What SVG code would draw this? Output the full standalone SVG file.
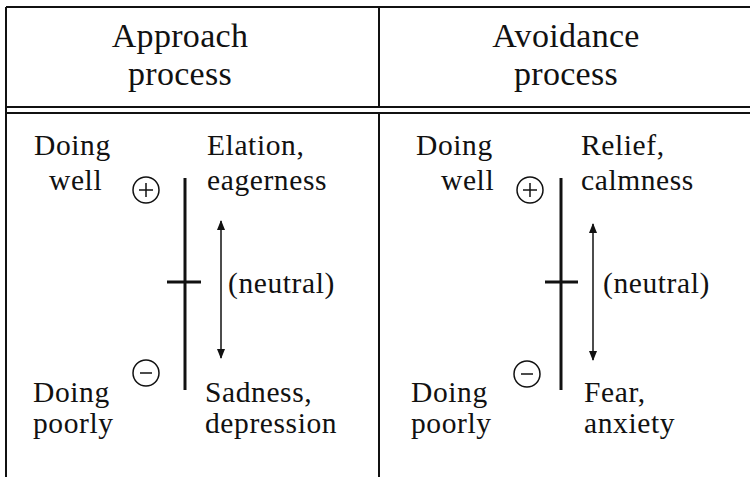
<svg xmlns="http://www.w3.org/2000/svg" width="750" height="477" viewBox="0 0 750 477">
<defs>
<style>
.t{font-family:"Liberation Serif","Times New Roman",serif;font-size:29.5px;letter-spacing:0.6px;fill:#111}
.h{font-family:"Liberation Serif","Times New Roman",serif;font-size:34px;letter-spacing:0.3px;fill:#111;text-anchor:middle}
.frame{stroke:#111;stroke-width:2;fill:none}
.bar{stroke:#111;stroke-width:3;fill:none}
.circ{stroke:#111;stroke-width:1.5;fill:none}
.arr{stroke:#111;stroke-width:1.5;fill:none;marker-start:url(#ah);marker-end:url(#ah)}
</style>
<marker id="ah" viewBox="0 0 10 10" refX="9" refY="5" markerWidth="11" markerHeight="10" markerUnits="userSpaceOnUse" orient="auto-start-reverse">
<path d="M0,1 L10,5 L0,9 Z" fill="#111"/>
</marker>
</defs>
<rect width="750" height="477" fill="#fff"/>
<g id="table" class="frame">
<line x1="6" y1="7" x2="750" y2="7"/>
<line x1="6" y1="7" x2="6" y2="477"/>
<line x1="6" y1="107" x2="750" y2="107"/>
<line x1="6" y1="113" x2="750" y2="113"/>
<line x1="379" y1="7" x2="379" y2="107"/>
<line x1="379" y1="113" x2="379" y2="477"/>
</g>
<g id="header-approach">
<text class="h" x="180" y="47">Approach</text>
<text class="h" x="180" y="85">process</text>
</g>
<g id="header-avoidance">
<text class="h" x="566" y="47">Avoidance</text>
<text class="h" x="566" y="85">process</text>
</g>
<g id="approach-panel">
<text class="t" x="34" y="155">Doing</text>
<text class="t" x="49" y="190">well</text>
<circle class="circ" cx="146" cy="190" r="13"/>
<line class="circ" x1="139" y1="190" x2="153" y2="190"/>
<line class="circ" x1="146" y1="183" x2="146" y2="197"/>
<text class="t" x="207" y="155">Elation,</text>
<text class="t" x="207" y="190">eagerness</text>
<line class="bar" x1="185" y1="178" x2="185" y2="390"/>
<line class="bar" x1="167" y1="282" x2="201" y2="282"/>
<text class="t" x="228" y="293">(neutral)</text>
<circle class="circ" cx="146" cy="373" r="13"/>
<line class="circ" x1="140" y1="373" x2="152" y2="373"/>
<text class="t" x="33" y="402">Doing</text>
<text class="t" x="33" y="433">poorly</text>
<text class="t" x="205" y="402">Sadness,</text>
<text class="t" x="205" y="433">depression</text>
</g>
<g id="avoidance-panel">
<text class="t" x="416" y="155">Doing</text>
<text class="t" x="441" y="190">well</text>
<circle class="circ" cx="530" cy="190" r="13"/>
<line class="circ" x1="523" y1="190" x2="537" y2="190"/>
<line class="circ" x1="530" y1="183" x2="530" y2="197"/>
<text class="t" x="581" y="155">Relief,</text>
<text class="t" x="581" y="190">calmness</text>
<line class="bar" x1="561" y1="178" x2="561" y2="390" stroke-width="4"/>
<line class="bar" x1="545" y1="282" x2="578" y2="282"/>
<text class="t" x="603" y="293">(neutral)</text>
<circle class="circ" cx="527" cy="374" r="13"/>
<line class="circ" x1="521" y1="374" x2="533" y2="374"/>
<text class="t" x="411" y="402">Doing</text>
<text class="t" x="411" y="433">poorly</text>
<text class="t" x="584" y="402">Fear,</text>
<text class="t" x="584" y="433">anxiety</text>
</g>
<g id="connectors">
<line class="arr" x1="221" y1="221" x2="221" y2="358"/>
<line class="arr" x1="593" y1="224" x2="593" y2="360"/>
</g>
</svg>
